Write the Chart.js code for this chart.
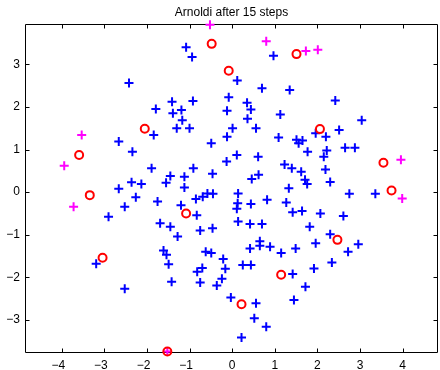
<!DOCTYPE html>
<html>
<head>
<meta charset="utf-8">
<script src="https://cdn.jsdelivr.net/npm/chart.js@4.4.1/dist/chart.umd.min.js"></script>
<style>
  html, body { margin: 0; padding: 0; background: #fff; }
  #plot { display: block; }
</style>
</head>
<body>
<canvas id="plot" width="440" height="370"></canvas>
<script>
// Title and axis ticks
const TITLE = 'Arnoldi after 15 steps';
const X_TICKS = [-4, -3, -2, -1, 0, 1, 2, 3, 4];
const Y_TICKS = [-3, -2, -1, 0, 1, 2, 3];
const X_RANGE = [-4.86, 4.83];
const Y_RANGE = [-3.775, 3.937];

// Eigenvalues of the matrix, bulk of the spectrum (real / imaginary parts)
const eigRe = [
  -1.08, -0.94, -2.42, -1.79, -1.41, -1.19, -1.39, -0.92, -1.17, -1.30,
  -1.00, -1.84, -2.66, -2.34, -0.49, -1.89, -1.45, -1.12, -0.91, -0.46,
  -2.36, -2.13, -1.55, -1.12, -0.08, -0.12, 0.01, -0.12, -0.13, 0.97,
  0.12, 0.70, 1.35, 2.42, 0.35, 0.44, 0.36, 1.13, 0.56, 1.09,
  1.51, 1.65, 1.56, 1.96, 2.20, 2.51, 3.04, 2.65, 2.88, 1.77,
  2.22, 2.15, 0.11, 0.61, 1.23, 1.40, 1.62, 2.19, 0.62, 0.46,
  1.71, 1.76, 2.30, 1.33, -2.66, -2.26, -2.52, -1.75, -1.20, -0.85,
  -0.69, -0.58, -0.45, -2.90, -0.83, -1.69, -1.45, -1.28, -0.75, -0.46,
  -3.19, -2.52, -1.61, -1.54, -1.49, -1.42, -0.62, -0.49, -0.70, -0.82,
  -0.75, -0.36, -0.21, -0.16, -0.24, -0.03, 0.14, 0.13, 0.11, 0.44,
  0.82, 1.27, 1.42, 1.64, 2.07, 0.14, 0.42, 0.70, 1.82, 2.30,
  0.65, 0.65, 0.42, 0.89, 1.15, 1.49, 1.96, 0.25, 0.44, 2.34,
  1.42, 1.92, 1.72, 1.45, 0.56, 0.52, 0.80, 0.22, 2.75, 3.36,
  2.61, 2.72, 2.96
];
const eigIm = [
  3.40, 3.17, 2.56, 1.95, 2.12, 1.93, 1.85, 2.14, 1.69, 1.50,
  1.50, 1.34, 1.19, 0.95, 1.15, 0.56, 0.38, 0.36, 0.56, 0.43,
  0.23, 0.19, 0.22, 0.11, 2.23, 1.91, 1.50, 1.30, 0.72, 3.20,
  2.62, 2.44, 2.40, 2.15, 2.10, 1.94, 1.72, 1.82, 1.50, 1.28,
  1.23, 1.21, 1.15, 1.38, 1.30, 1.46, 1.69, 1.04, 1.04, 0.95,
  0.98, 0.83, 0.87, 0.83, 0.65, 0.56, 0.48, 0.53, 0.41, 0.31,
  0.29, 0.19, 0.24, 0.09, 0.08, -0.12, -0.34, -0.22, -0.31, -0.16,
  -0.11, -0.03, -0.04, -0.58, -0.54, -0.73, -0.81, -1.04, -0.90, -0.85,
  -1.68, -2.27, -1.37, -1.47, -1.69, -2.10, -1.40, -1.43, -1.78, -1.87,
  -2.12, -2.19, -1.57, -1.80, -2.03, -2.47, -0.03, -0.26, -0.39, -0.28,
  -0.18, -0.24, -0.47, -0.44, -0.50, -0.69, -0.75, -0.75, -0.81, -0.99,
  -1.15, -1.26, -1.32, -1.28, -1.43, -1.32, -1.20, -1.71, -1.71, -1.65,
  -1.92, -1.79, -2.22, -2.53, -2.61, -2.96, -3.16, -3.41, -0.04, -0.04,
  -0.56, -1.40, -1.22
];

// Outlying eigenvalues
const outRe = [-0.52, 0.80, 1.73, 2.01, -3.53, -3.94, -3.72, 3.96, 3.99, -1.52];
const outIm = [3.93, 3.54, 3.31, 3.34, 1.34, 0.62, -0.34, 0.76, -0.15, -3.74];

// Ritz values after 15 Arnoldi steps
const ritzRe = [-0.48, -0.08, 1.51, -2.05, -3.59, 2.06, -3.34, -1.08, -3.04, 2.47, 1.15, 0.22, -1.52, 3.55, 3.74];
const ritzIm = [3.48, 2.85, 3.24, 1.49, 0.87, 1.48, -0.07, -0.50, -1.54, -1.12, -1.94, -2.63, -3.74, 0.69, 0.04];

const toPoints = (re, im) => re.map((x, i) => ({ x: x, y: im[i] }));

const FONT = { family: '"Liberation Sans", Arial, Helvetica, sans-serif', size: 12 };
const fmtY = v => (v < 0 ? '\u2212' + Math.abs(v) : String(v));
// x labels keep the digit centred on its tick; the minus sign hangs to the left
const fmtX = v => (v < 0 ? '\u2212' + Math.abs(v) + '\u2007' : String(v));

// Boxed axes with short inward tick marks on all four sides
const boxAxes = {
  id: 'boxAxes',
  beforeDatasetsDraw(chart) {
    const { ctx, chartArea: a, scales } = chart;
    const L = Math.round(a.left) + 0.5, R = Math.round(a.right) - 0.5;
    const T = Math.round(a.top) + 0.5, B = Math.round(a.bottom) - 0.5;
    const len = 4;
    ctx.save();
    ctx.strokeStyle = '#000';
    ctx.lineWidth = 1;
    ctx.beginPath();
    ctx.rect(L, T, R - L, B - T);
    scales.x.ticks.forEach(t => {
      const px = Math.round(scales.x.getPixelForValue(t.value)) + 0.5;
      ctx.moveTo(px, B); ctx.lineTo(px, B - len);
      ctx.moveTo(px, T); ctx.lineTo(px, T + len);
    });
    scales.y.ticks.forEach(t => {
      const py = Math.round(scales.y.getPixelForValue(t.value)) + 0.5;
      ctx.moveTo(L, py); ctx.lineTo(L + len, py);
      ctx.moveTo(R, py); ctx.lineTo(R - len, py);
    });
    ctx.stroke();
    ctx.restore();
  }
};

new Chart(document.getElementById('plot'), {
  type: 'scatter',
  data: {
    datasets: [
      {
        label: 'Ritz values',
        data: toPoints(ritzRe, ritzIm),
        pointStyle: 'circle',
        pointRadius: 4,
        pointBorderWidth: 2,
        pointBorderColor: '#ff0000',
        pointBackgroundColor: 'rgba(0,0,0,0)',
        clip: false,
        order: 0
      },
      {
        label: 'outliers',
        data: toPoints(outRe, outIm),
        pointStyle: 'cross',
        pointRadius: 4.5,
        pointBorderWidth: 2,
        pointBorderColor: '#ff00ff',
        clip: false,
        order: 1
      },
      {
        label: 'eigenvalues',
        data: toPoints(eigRe, eigIm),
        pointStyle: 'cross',
        pointRadius: 4.5,
        pointBorderWidth: 2,
        pointBorderColor: '#0000ff',
        clip: false,
        order: 2
      }
    ]
  },
  options: {
    responsive: false,
    animation: false,
    events: [],
    layout: { autoPadding: false, padding: { left: 0, right: 2, top: 0, bottom: 0 } },
    plugins: {
      legend: { display: false },
      tooltip: { enabled: false },
      title: {
        display: true,
        text: TITLE,
        fullSize: false,
        color: '#000',
        font: { family: FONT.family, size: 12, weight: 'normal' },
        padding: { top: 5, bottom: 5 }
      }
    },
    scales: {
      x: {
        type: 'linear',
        min: X_RANGE[0],
        max: X_RANGE[1],
        afterBuildTicks(s) { s.ticks = X_TICKS.map(v => ({ value: v })); },
        afterFit(s) { s.height = 17; s.paddingLeft = 0; s.paddingRight = 0; },
        grid: { display: false, drawTicks: false },
        border: { display: false },
        ticks: { color: '#000', font: FONT, padding: 5, maxRotation: 0, autoSkip: false, callback: fmtX }
      },
      y: {
        type: 'linear',
        min: Y_RANGE[0],
        max: Y_RANGE[1],
        afterBuildTicks(s) { s.ticks = Y_TICKS.map(v => ({ value: v })); },
        afterFit(s) { s.width = 25; s.paddingTop = 0; s.paddingBottom = 0; },
        grid: { display: false, drawTicks: false },
        border: { display: false },
        ticks: { color: '#000', font: FONT, padding: 5, autoSkip: false, callback: fmtY }
      }
    }
  },
  plugins: [boxAxes]
});
</script>
</body>
</html>
